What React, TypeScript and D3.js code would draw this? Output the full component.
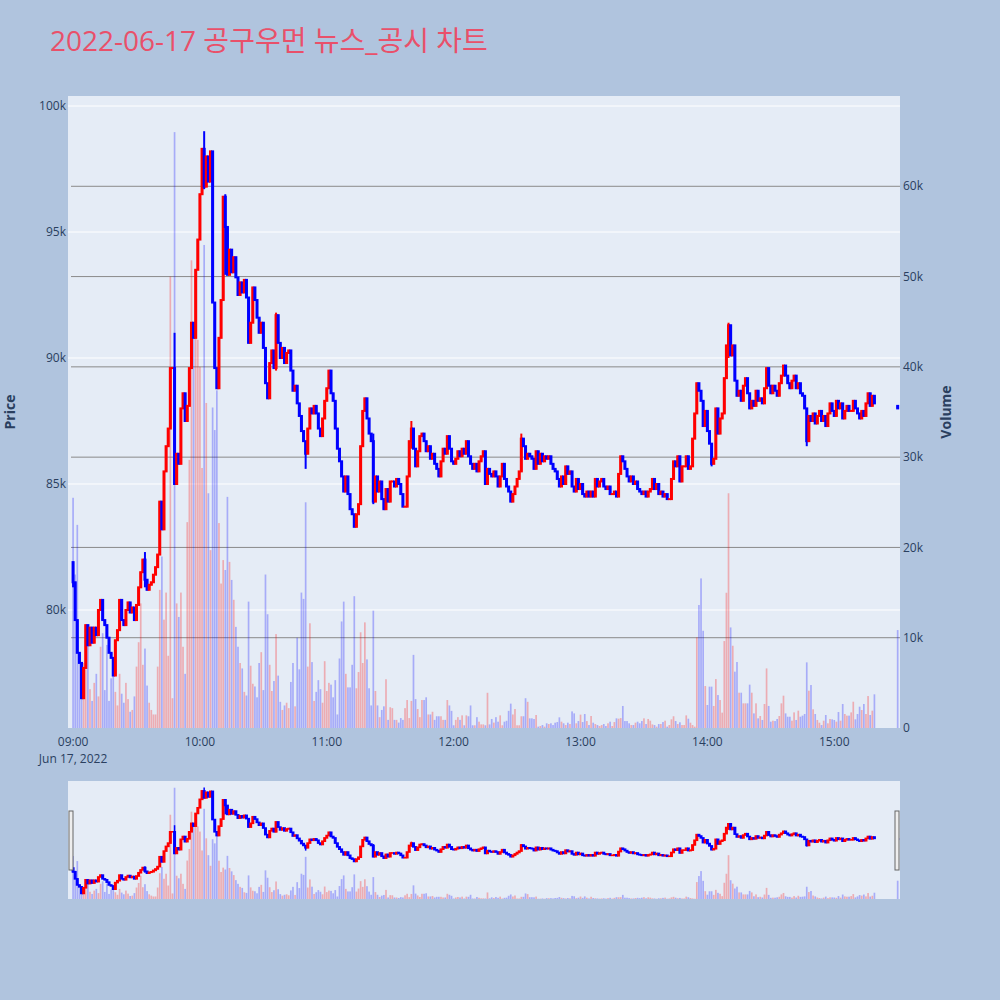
import React from "react";
import * as d3 from "d3";

// one candle per minute from 09:00, close prices
const firstOpen = 81900;
const closes: number[] = [
  81100, 79600, 78300, 77900, 76500, 77700, 79400, 78600, 79300, 78700,
  79300, 79000, 80000, 80400, 79600, 79400, 78900, 78300, 78100, 77400,
  78800, 79200, 80400, 79600, 79400, 80000, 80300, 79900, 80100, 79600,
  80200, 80900, 81500, 82000, 81200, 80800, 81000, 81100, 81400, 81700,
  82200, 84300, 83200, 85500, 86500, 87200, 89600, 89600, 85000, 86200,
  85800, 88000, 88600, 87500, 88100, 89600, 91400, 90800, 93500, 94700,
  96500, 98300, 96800, 98000, 97000, 98200, 92200, 89600, 88800, 90800,
  92300, 96400, 95200, 93300, 94300, 93400, 94000, 93200, 92500, 93000,
  92600, 93100, 92400, 90600, 91400, 92800, 92300, 91600, 91000, 91400,
  90400, 89000, 88400, 89800, 90300, 89600, 91700, 90600, 90000, 90400,
  89800, 90200, 90300, 89500, 88700, 88900, 88200, 87700, 87100, 86700,
  86200, 87200, 88000, 87800, 88100, 87800, 87200, 86900, 87600, 88300,
  88800, 89500, 88600, 88300, 87200, 86400, 85900, 85300, 84700, 85300,
  84600, 84000, 83800, 83300, 83800, 84200, 86500, 87900, 88400, 87600,
  87000, 86700, 84300, 85300, 84700, 85100, 84400, 84000, 84800, 84300,
  85100, 85100, 84900, 85200, 85000, 84600, 84100, 84100, 85300, 86700,
  87200, 86400, 85700, 86300, 86900, 87000, 86700, 86300, 86500, 86000,
  86200, 85800, 85600, 85300, 85900, 86400, 86200, 86900, 86400, 85900,
  85800, 86000, 86300, 86100, 86400, 86200, 86700, 86100, 85800, 85600,
  85800, 85500, 85900, 86100, 86300, 85000, 85600, 85400, 85300, 85500,
  85300, 84900, 85300, 85800, 85200, 84900, 84700, 84300, 84600, 84900,
  85200, 85500, 86800, 86500, 86000, 86200, 86100, 86000, 85600, 86300,
  85800, 86200, 85900, 86100, 86000, 86100, 85800, 85600, 85500, 85200,
  84900, 85300, 85000, 85700, 85400, 85500, 84900, 84700, 85200, 84800,
  85000, 84600, 84500, 84700, 84500, 84700, 84500, 85200, 84900, 85100,
  85200, 84900, 84800, 84900, 84600, 84600, 84700, 84500, 85400, 86100,
  85900, 85600, 85300, 85100, 85300, 85000, 85100, 84800, 84700, 84600,
  84700, 84500, 84700, 84800, 85200, 84800, 85000, 84600, 84700, 84500,
  84600, 84400, 84400, 85200, 85900, 85700, 86100, 85100, 85700, 85700,
  86100, 85600, 85700, 86800, 87800, 89000, 88700, 88300, 87300, 87900,
  87100, 86600, 85800, 86000, 88000, 87000, 87600, 87800, 89200, 90500,
  91300, 90100, 90500, 89100, 88500, 88700, 88300, 88900, 89200, 88600,
  88000, 88300, 88100, 88700, 88300, 88400, 88200, 88800, 89600, 88900,
  88600, 88900, 88700, 88500, 89000, 89300, 89700, 89300, 89000, 88800,
  89100, 89300, 88800, 89000, 88600, 88500, 88000, 86700, 87700, 87500,
  87800, 87400, 87700, 87900, 87500, 87700, 87300, 87800, 88200, 87900,
  87700, 88300, 88000, 88200, 87600, 87900, 88100, 87900, 87900, 88300,
  88000, 87800, 87600, 87900, 87700, 88200, 88600, 88100, 88500, 88200,
];

// visible wicks: [minute index, high, low]
const wicks: [number, number, number][] = [
  [0, 81900, 80900],
  [34, 82300, 80900],
  [48, 91000, 85000],
  [62, 99000, 96700],
  [72, 96500, 93300],
  [96, 91800, 89500],
  [110, 86700, 85600],
  [142, 87000, 84200],
  [160, 87500, 86400],
  [212, 87000, 85500],
  [302, 86600, 85700],
  [310, 91400, 90000],
  [347, 88000, 86500],
];

const volumes: number[] = [
  25500, 17000, 22500, 8000, 5900, 7200, 6500, 10300, 4300, 3000,
  5000, 6000, 3500, 9000, 10500, 4200, 9200, 3000, 5500, 6500,
  4000, 2500, 6000, 3800, 2800, 5000, 3200, 1800, 2000, 3500,
  6800, 9500, 13800, 7000, 8800, 4700, 2800, 2000, 1500, 1500,
  6800, 15300, 19000, 12000, 15000, 8000, 50000, 3300, 66000, 13800,
  12300, 15000, 9000, 6000, 22800, 29700, 51800, 43700, 50000, 43000,
  40000, 28800, 53500, 36000, 26000, 19700, 35500, 33000, 37400, 22700,
  16000, 18600, 17500, 25600, 18400, 16400, 14200, 11200, 9000, 7200,
  6600, 4000, 3600, 14000, 6900, 4900, 4600, 3400, 7200, 8400,
  4200, 17000, 12600, 7000, 4100, 5200, 10400, 5800, 2900, 2000,
  2500, 2800, 2200, 5100, 7200, 2400, 10000, 6500, 15000, 14300,
  25000, 6800, 11600, 7300, 3000, 4000, 5300, 4300, 2800, 7400,
  4100, 5000, 4800, 3400, 5300, 1500, 7700, 11800, 14000, 6000,
  4500, 4500, 7000, 14600, 4400, 6200, 10600, 7200, 11700, 7600,
  4400, 2500, 13000, 4100, 2500, 1200, 2000, 2400, 5400, 900,
  2300, 2200, 900, 900, 600, 1100, 900, 2200, 3100, 1100,
  3000, 8100, 3200, 2100, 1200, 3100, 3100, 3400, 1500, 1500,
  1800, 900, 1300, 1300, 1300, 900, 900, 3100, 2500, 1900,
  300, 900, 1200, 900, 1400, 300, 1400, 1300, 2500, 300,
  300, 1200, 700, 400, 400, 300, 3900, 400, 1000, 600,
  1200, 700, 1400, 300, 700, 800, 1900, 2700, 1500, 2100,
  300, 300, 1300, 1300, 3300, 2900, 1070, 1070, 1000, 1440,
  150, 220, 330, 150, 520, 440, 520, 330, 590, 660,
  1180, 700, 520, 330, 590, 440, 1840, 1620, 520, 770,
  1480, 660, 1550, 770, 330, 1330, 590, 440, 330, 220,
  330, 440, 220, 520, 700, 220, 660, 1070, 1030, 1100,
  2440, 770, 770, 520, 330, 330, 590, 700, 520, 770,
  1070, 440, 1000, 810, 400, 330, 150, 440, 440, 660,
  810, 150, 330, 960, 1300, 770, 440, 630, 330, 330,
  1400, 1030, 590, 330, 150, 10040, 13620, 16570, 10770, 4650,
  2550, 4580, 4580, 2440, 5420, 3650, 3100, 1700, 9630, 14980,
  26000, 11140, 9110, 6240, 7310, 3910, 3910, 2730, 2730, 2730,
  4800, 3910, 1620, 2730, 1070, 1330, 890, 2660, 6600, 2440,
  700, 810, 770, 1000, 1330, 2730, 3580, 1620, 1250, 1250,
  810, 1730, 890, 1920, 1250, 1370, 1550, 7270, 4130, 4760,
  2070, 1550, 890, 590, 330, 810, 1440, 520, 1000, 960,
  890, 700, 1770, 810, 2660, 1550, 1370, 1370, 1730, 2910,
  960, 1550, 2360, 1990, 2660, 1550, 3540, 1440, 1920, 3730,
];

// closing auction
const auctionTime = "15:30";
const auctionOpen = 88100;
const auctionClose = 88000;
const auctionVolume = 10850;

const priceTicks = [80000, 85000, 90000, 95000, 100000];
const volumeTicks = [0, 10000, 20000, 30000, 40000, 50000, 60000];
const timeTicks = ["09:00", "10:00", "11:00", "12:00", "13:00", "14:00", "15:00"];

const day = "2022-06-17";
const title = "2022-06-17 공구우먼 뉴스_공시 차트";

interface Candle {
  t: Date;
  open: number;
  close: number;
  high: number;
  low: number;
  volume: number;
}

const parse = d3.timeParse("%Y-%m-%d %H:%M");
const start = parse(`${day} 09:00`) as Date;
const addMin = (m: number) => d3.timeSecond.offset(start, Math.round(m * 60));

const wickMap = new Map(wicks.map((w) => [w[0], w]));

const candles: Candle[] = closes.map((c, i) => {
  const open = i === 0 ? firstOpen : closes[i - 1];
  const w = wickMap.get(i);
  return {
    t: d3.timeMinute.offset(start, i),
    open,
    close: c,
    high: w ? w[1] : Math.max(open, c),
    low: w ? w[2] : Math.min(open, c),
    volume: volumes[i],
  };
});
candles.push({
  t: parse(`${day} ${auctionTime}`) as Date,
  open: auctionOpen,
  close: auctionClose,
  high: auctionOpen,
  low: auctionClose,
  volume: auctionVolume,
});

const UP = "#ff0000";
const DOWN = "#0000ff";
const FONT = '"Open Sans", "Noto Sans CJK KR", verdana, arial, sans-serif';
const TEXT = "#2a3f5f";

const App = () => {
  const left = 68;
  const right = 900;
  const top = 96;
  const bottom = 728;
  const sTop = 781;
  const sBottom = 899;

  const x = d3
    .scaleTime()
    .domain([addMin(-2.4), addMin(391.1)])
    .range([left, right]);
  const priceDomain = [75317, 100397];
  const y = d3.scaleLinear().domain(priceDomain).range([bottom, top]);
  const yVol = d3.scaleLinear().domain([0, 70000]).range([bottom, top]);
  const ys = d3.scaleLinear().domain(priceDomain).range([sBottom, sTop]);
  const ysVol = d3.scaleLinear().domain([0, 70000]).range([sBottom, sTop]);

  const fmt = d3.format("~s");
  const step = x(d3.timeMinute.offset(start, 1)) - x(start);
  const barW = step * 0.8;
  const bodyW = 3;

  const drawBars = (yv: d3.ScaleLinear<number, number>, key: string) =>
    candles.map((d, i) => (
      <rect
        key={`${key}${i}`}
        x={x(d.t) - barW / 2}
        y={yv(d.volume)}
        width={barW}
        height={yv(0) - yv(d.volume)}
        fill={d.close >= d.open ? UP : DOWN}
        opacity={0.27}
      />
    ));

  const drawCandles = (
    yp: d3.ScaleLinear<number, number>,
    key: string,
    pad: number
  ) =>
    candles.map((d, i) => {
      const y0 = yp(Math.max(d.open, d.close));
      const y1 = yp(Math.min(d.open, d.close));
      const col = d.close >= d.open ? UP : DOWN;
      return (
        <g key={`${key}${i}`}>
          <line
            x1={x(d.t)}
            x2={x(d.t)}
            y1={yp(d.high)}
            y2={yp(d.low)}
            stroke={col}
            strokeWidth={pad > 0.9 ? 2 : 1.5}
          />
          <rect
            x={x(d.t) - bodyW / 2}
            y={y0 - pad}
            width={bodyW}
            height={y1 - y0 + pad * 2}
            fill={col}
          />
        </g>
      );
    });

  return (
    <svg
      width={1000}
      height={1000}
      style={{ position: "absolute", left: 0, top: 0 }}
      fontFamily={FONT}
    >
      <rect width={1000} height={1000} fill="#b0c4de" />
      <text x={50} y={51} fontSize={28} fill="#e9506a">
        {title}
      </text>

      <rect x={left} y={top} width={right - left} height={bottom - top} fill="#e5ecf6" />
      {priceTicks.map((p) => (
        <line key={`pg${p}`} x1={left} x2={right} y1={y(p)} y2={y(p)} stroke="#fff" strokeWidth={1} />
      ))}
      {volumeTicks.slice(1).map((v) => (
        <line key={`vg${v}`} x1={left + 3} x2={right} y1={yVol(v)} y2={yVol(v)} stroke="#8a8a8a" strokeWidth={1} />
      ))}
      {drawBars(yVol, "vb")}
      {drawCandles(y, "c", 1)}

      {priceTicks.map((p) => (
        <text key={`pt${p}`} x={66} y={y(p)} dy="0.35em" textAnchor="end" fontSize={12} fill={TEXT}>
          {fmt(p)}
        </text>
      ))}
      {volumeTicks.map((v) => (
        <text key={`vt${v}`} x={903} y={yVol(v)} dy="0.35em" textAnchor="start" fontSize={12} fill={TEXT}>
          {fmt(v)}
        </text>
      ))}
      {timeTicks.map((s) => {
        const t = parse(`${day} ${s}`) as Date;
        return (
          <text key={`tt${s}`} x={x(t)} y={746} textAnchor="middle" fontSize={12} fill={TEXT}>
            {s}
          </text>
        );
      })}
      <text x={x(start)} y={763} textAnchor="middle" fontSize={12} fill={TEXT}>
        {d3.timeFormat("%b %-d, %Y")(start)}
      </text>

      <text
        transform={`translate(15,${(top + bottom) / 2}) rotate(-90)`}
        textAnchor="middle"
        fontSize={14}
        fontWeight="bold"
        fill={TEXT}
      >
        Price
      </text>
      <text
        transform={`translate(951,${(top + bottom) / 2}) rotate(-90)`}
        textAnchor="middle"
        fontSize={14}
        fontWeight="bold"
        fill={TEXT}
      >
        Volume
      </text>

      {/* range slider */}
      <rect x={left} y={sTop} width={right - left} height={sBottom - sTop} fill="#e5ecf6" />
      {drawBars(ysVol, "sb")}
      {drawCandles(ys, "sc", 0.8)}
      <rect x={left + 1} y={811} width={4} height={59} fill="#eee" stroke="#666" strokeWidth={1} />
      <rect x={right - 5} y={811} width={4} height={59} fill="#eee" stroke="#666" strokeWidth={1} />
    </svg>
  );
};

export default App;
